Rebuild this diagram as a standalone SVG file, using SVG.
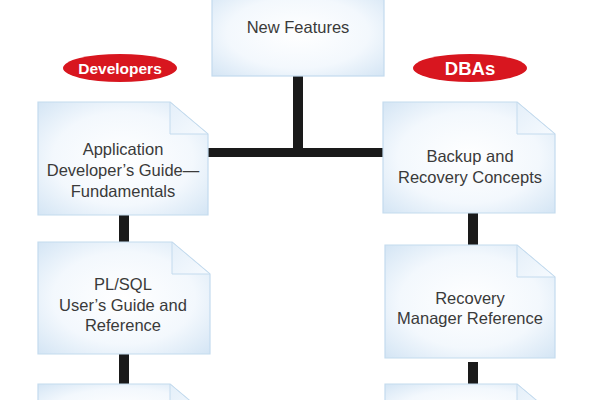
<svg xmlns="http://www.w3.org/2000/svg" width="600" height="400" viewBox="0 0 600 400">
<defs>
<radialGradient id="doc" cx="0.5" cy="0.5" r="0.75">
<stop offset="0" stop-color="#ffffff"/>
<stop offset="0.55" stop-color="#f3f8fd"/>
<stop offset="1" stop-color="#cfe2f3"/>
</radialGradient>
<linearGradient id="fold" x1="0" y1="0" x2="1" y2="1">
<stop offset="0" stop-color="#e4eff9"/>
<stop offset="1" stop-color="#f6fafe"/>
</linearGradient>
<style>
.doc{fill:url(#doc);stroke:#c4dbee;stroke-width:1.2}
.fold{fill:url(#fold);stroke:#c4dbee;stroke-width:1}
.t{font-family:"Liberation Sans",Arial,sans-serif;font-size:16.5px;fill:#3a3a3a;text-anchor:middle}
.bar{fill:#1a1a1a}
.pill{fill:#d8161f}
.pt{font-family:"Liberation Sans",Arial,sans-serif;font-weight:bold;fill:#fff;text-anchor:middle}
</style>
</defs>
<rect width="600" height="400" fill="#fff"/>
<g id="connectors">
<rect class="bar" x="293" y="76" width="10" height="78"/>
<rect class="bar" x="208" y="148" width="176" height="9"/>
<rect class="bar" x="119" y="215" width="10" height="27"/>
<rect class="bar" x="119" y="353" width="10" height="31"/>
<rect class="bar" x="468" y="213" width="10" height="32"/>
<rect class="bar" x="468" y="362" width="10" height="22"/>
</g>
<g id="new-features">
<rect class="doc" x="212" y="-10" width="172" height="86"/>
<text class="t" x="298" y="33">New Features</text>
</g>
<g id="developers">
<ellipse class="pill" cx="120" cy="68" rx="57" ry="14"/>
<text class="pt" x="120" y="73.5" font-size="15.5">Developers</text>
</g>
<g id="dbas">
<ellipse class="pill" cx="470" cy="68" rx="57" ry="14"/>
<text class="pt" x="470" y="75" font-size="18.5">DBAs</text>
</g>
<g id="app-dev-guide">
<path class="doc" d="M38,102 H170 L208,134 V215 H38 Z"/>
<path class="fold" d="M170,102 V134 H208 Z"/>
<text class="t" x="123" y="155">Application</text>
<text class="t" x="123" y="176">Developer’s Guide—</text>
<text class="t" x="123" y="197">Fundamentals</text>
</g>
<g id="backup-recovery">
<path class="doc" d="M383,102 H517 L555,134 V213 H383 Z"/>
<path class="fold" d="M517,102 V134 H555 Z"/>
<text class="t" x="470" y="162">Backup and</text>
<text class="t" x="470" y="183">Recovery Concepts</text>
</g>
<g id="plsql-guide">
<path class="doc" d="M38,242 H172 L210,274 V354 H38 Z"/>
<path class="fold" d="M172,242 V274 H210 Z"/>
<text class="t" x="123" y="290">PL/SQL</text>
<text class="t" x="123" y="311">User’s Guide and</text>
<text class="t" x="123" y="331">Reference</text>
</g>
<g id="rman-reference">
<path class="doc" d="M385,245 H517 L555,277 V358 H385 Z"/>
<path class="fold" d="M517,245 V277 H555 Z"/>
<text class="t" x="470" y="304">Recovery</text>
<text class="t" x="470" y="324">Manager Reference</text>
</g>
<g id="left-next">
<path class="doc" d="M38,384 H170 L208,416 V436 H38 Z"/>
<path class="fold" d="M170,384 V416 H208 Z"/>
</g>
<g id="right-next">
<path class="doc" d="M385,384 H517 L555,416 V436 H385 Z"/>
<path class="fold" d="M517,384 V416 H555 Z"/>
</g>
</svg>
